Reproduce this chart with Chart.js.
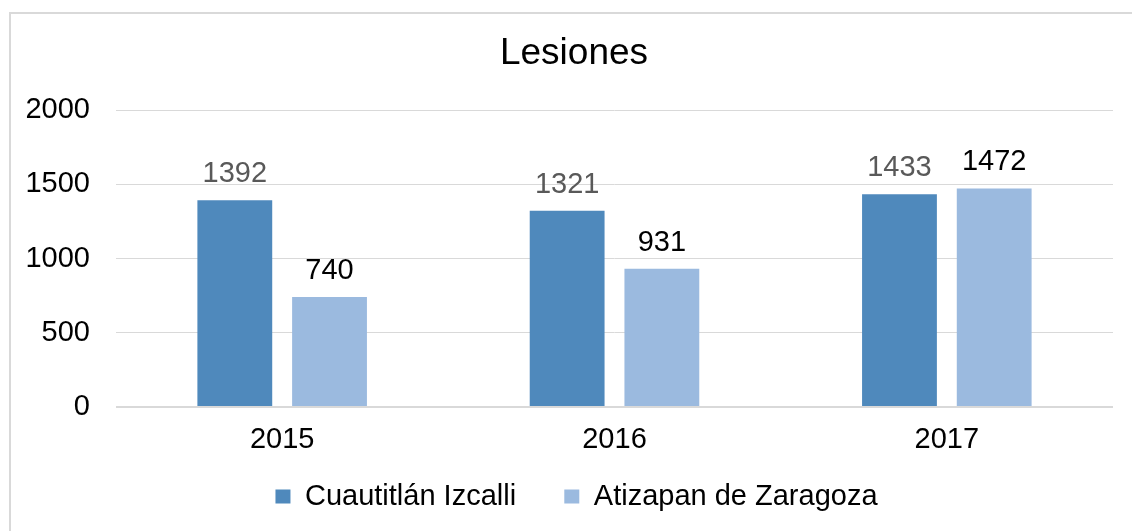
<!DOCTYPE html>
<html>
<head>
<meta charset="utf-8">
<script src="https://cdn.jsdelivr.net/npm/chart.js@4"></script>
<style>
  html, body { margin: 0; padding: 0; background: #fff; }
  #marco {
    position: absolute; left: 9px; top: 12px; width: 1121px; height: 517px;
    border-left: 2px solid #d9d9d9; border-top: 2px solid #d9d9d9;
  }
</style>
</head>
<body>
<div id="marco"><canvas id="myChart"></canvas></div>
<script>
const anios = ["2015", "2016", "2017"];
const cuautitlan = [1392, 1321, 1433];
const atizapan = [740, 931, 1472];
const etiquetas_y = [0, 500, 1000, 1500, 2000];

const fuente = "'Liberation Sans', Arial, sans-serif";

/* etiquetas arriba de las barras */
const etiquetas_barras = {
  id: "etiquetas_barras",
  afterDatasetsDraw(chart) {
    const ctx = chart.ctx;
    ctx.save();
    ctx.font = "29px " + fuente;
    ctx.textAlign = "center";
    ctx.textBaseline = "alphabetic";
    chart.data.datasets.forEach((ds, i) => {
      ctx.fillStyle = ds.colorEtiqueta;
      chart.getDatasetMeta(i).data.forEach((bar, j) => {
        ctx.fillText(ds.data[j], bar.x, bar.y - 18);
      });
    });
    ctx.restore();
  }
};

/* mover titulo y leyenda un poco a la derecha */
const mover_bloques = {
  id: "mover_bloques",
  afterLayout(chart) {
    chart.legend.left += 9.5;
    chart.legend.right += 9.5;
    chart.titleBlock.left += 7;
    chart.titleBlock.right += 7;
  }
};

const ctx = document.getElementById("myChart").getContext("2d");
const myChart = new Chart(ctx, {
  type: "bar",
  data: {
    labels: anios,
    datasets: [
      { label: "Cuautitlán Izcalli", data: cuautitlan, backgroundColor: "#4f89bc", colorEtiqueta: "#595959" },
      { label: "Atizapan de Zaragoza", data: atizapan, backgroundColor: "#9bbadf", colorEtiqueta: "#000" }
    ]
  },
  options: {
    responsive: true,
    maintainAspectRatio: false,
    animation: false,
    categoryPercentage: 0.57,
    barPercentage: 0.79,
    layout: { padding: { left: 10, right: 19, top: 0, bottom: 10 } },
    plugins: {
      title: {
        display: true,
        text: "Lesiones",
        color: "#000",
        font: { family: fuente, size: 37, weight: "normal" },
        padding: { top: 18, bottom: 33.6 }
      },
      legend: {
        position: "bottom",
        labels: {
          color: "#000",
          boxWidth: 15,
          boxHeight: 14,
          padding: 24,
          font: { family: fuente, size: 29 },
          generateLabels: (chart) => {
            const items = Chart.defaults.plugins.legend.labels.generateLabels(chart);
            items[0].text += "   ";
            return items;
          }
        }
      },
      tooltip: { enabled: false }
    },
    scales: {
      x: {
        afterFit: (axis) => { axis.height = 51; },
        grid: { display: false, drawTicks: false },
        border: { display: false },
        ticks: {
          color: "#000",
          padding: 16,
          font: { family: fuente, size: 29 }
        }
      },
      y: {
        min: 0,
        max: 2000,
        afterBuildTicks: (axis) => { axis.ticks = etiquetas_y.map(v => ({ value: v })); },
        afterFit: (axis) => { axis.width = 95; },
        grid: {
          drawTicks: false,
          color: "#d9d9d9",
          lineWidth: (c) => (c.tick && c.tick.value === 0 ? 2 : 1)
        },
        border: { display: false },
        ticks: {
          color: "#000",
          padding: 26,
          callback: (v) => String(v),
          font: { family: fuente, size: 29 }
        }
      }
    }
  },
  plugins: [etiquetas_barras, mover_bloques]
});
</script>
</body>
</html>
